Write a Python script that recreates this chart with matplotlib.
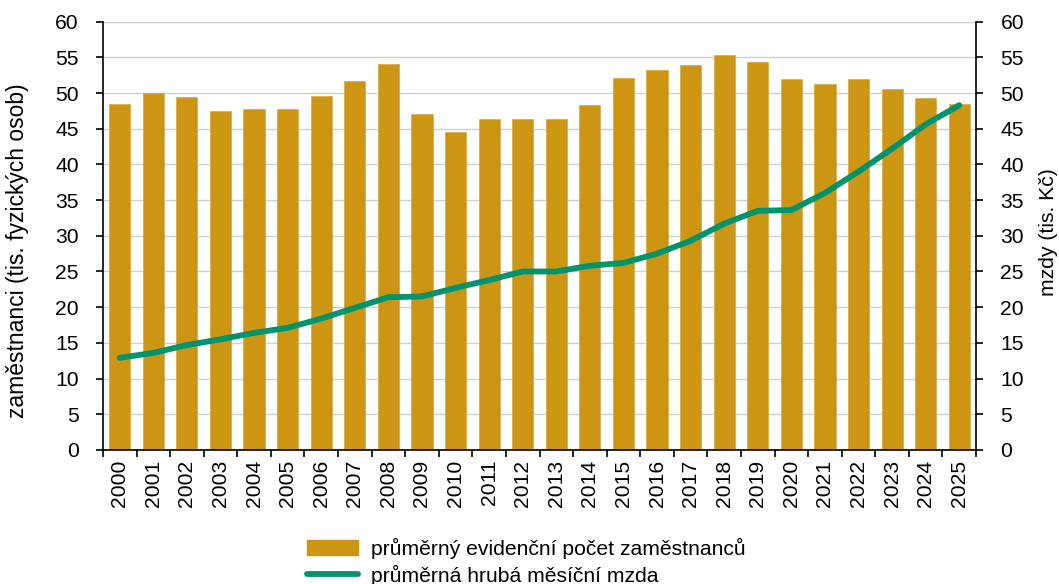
import numpy as np
import matplotlib
matplotlib.use('Agg')
import matplotlib.pyplot as plt
from matplotlib.ticker import FixedLocator, MultipleLocator

plt.rcParams['font.family'] = ['Liberation Sans', 'DejaVu Sans']

# data
years = list(range(2000, 2026))
employees = [48.4, 50.0, 49.4, 47.5, 47.8, 47.7, 49.6, 51.7, 54.0, 47.1,
             44.5, 46.4, 46.4, 46.4, 48.3, 52.1, 53.2, 53.9, 55.3, 54.4,
             51.9, 51.2, 51.9, 50.6, 49.3, 48.5]
wages = [12.9, 13.6, 14.7, 15.5, 16.4, 17.1, 18.4, 19.9, 21.4, 21.5,
         22.7, 23.8, 25.0, 25.0, 25.8, 26.2, 27.5, 29.3, 31.7, 33.5,
         33.6, 36.0, 39.0, 42.2, 45.6, 48.3]

bar_label = 'průměrný evidenční počet zaměstnanců'
line_label = 'průměrná hrubá měsíční mzda'
left_ylabel = 'zaměstnanci (tis. fyzických osob)'
right_ylabel = 'mzdy (tis. Kč)'

bar_color = '#CC9614'
line_color = '#00936E'
fs = 15.2


def main():
	fig = plt.figure(figsize=(10.59, 5.84), dpi=100)
	ax = fig.add_axes([0.0972, 0.2295, 0.8245, 0.7335])
	x = np.arange(len(years))

	ax.bar(x, employees, width=0.63, color=bar_color, edgecolor='#D9AE4A', linewidth=0.6, zorder=2)
	ax.set_xlim(-0.5, len(years) - 0.5)
	ax.set_ylim(0, 60)
	ax.yaxis.set_major_locator(MultipleLocator(5))
	ax.grid(axis='y', color='#CFCFCF', linewidth=1.0, zorder=0)
	ax.set_axisbelow(True)

	# ticks at category boundaries, labels at centers
	ax.xaxis.set_major_locator(FixedLocator(np.arange(-0.5, len(years), 1.0)))
	ax.xaxis.set_minor_locator(FixedLocator(x))
	ax.set_xticklabels([])
	ax.set_xticklabels([str(y) for y in years], minor=True, rotation=90, fontsize=fs)
	ax.tick_params(axis='x', which='major', length=5, width=1.2, direction='out')
	ax.tick_params(axis='x', which='minor', length=0, pad=7)
	ax.tick_params(axis='y', length=5, width=1.2, direction='out', labelsize=fs, pad=12.5)

	for s in ['top', 'right']:
		ax.spines[s].set_visible(False)
	for s in ['left', 'bottom']:
		ax.spines[s].set_linewidth(1.2)

	ax2 = ax.twinx()
	ax2.plot(x, wages, color=line_color, linewidth=4.2, solid_capstyle='round', solid_joinstyle='round', zorder=3)
	ax2.set_ylim(0, 60)
	ax2.yaxis.set_major_locator(MultipleLocator(5))
	ax2.tick_params(axis='y', length=5, width=1.2, direction='out', labelsize=fs, pad=12.5)
	for s in ['top', 'left', 'bottom']:
		ax2.spines[s].set_visible(False)
	ax2.spines['right'].set_linewidth(1.2)

	# axis titles
	fig.text(18 / 1059, 1 - 251 / 584, left_ylabel, rotation=90, ha='center', va='center', fontsize=16.5)
	fig.text(1049 / 1059, 1 - 232 / 584, right_ylabel, rotation=90, ha='center', va='center', fontsize=fs)

	handles = [plt.Rectangle((0, 0), 1, 1, color=bar_color),
	           plt.Line2D([0], [0], color=line_color, linewidth=4.2, solid_capstyle='round')]
	fig.legend(handles, [bar_label, line_label], loc='center', bbox_to_anchor=(0.497, 0.038),
	           frameon=False, fontsize=fs, handlelength=2.4, handletextpad=0.6, labelspacing=0.25,
	           borderpad=0)

	fig.savefig('out.png', dpi=100)


if __name__ == '__main__':
	main()
